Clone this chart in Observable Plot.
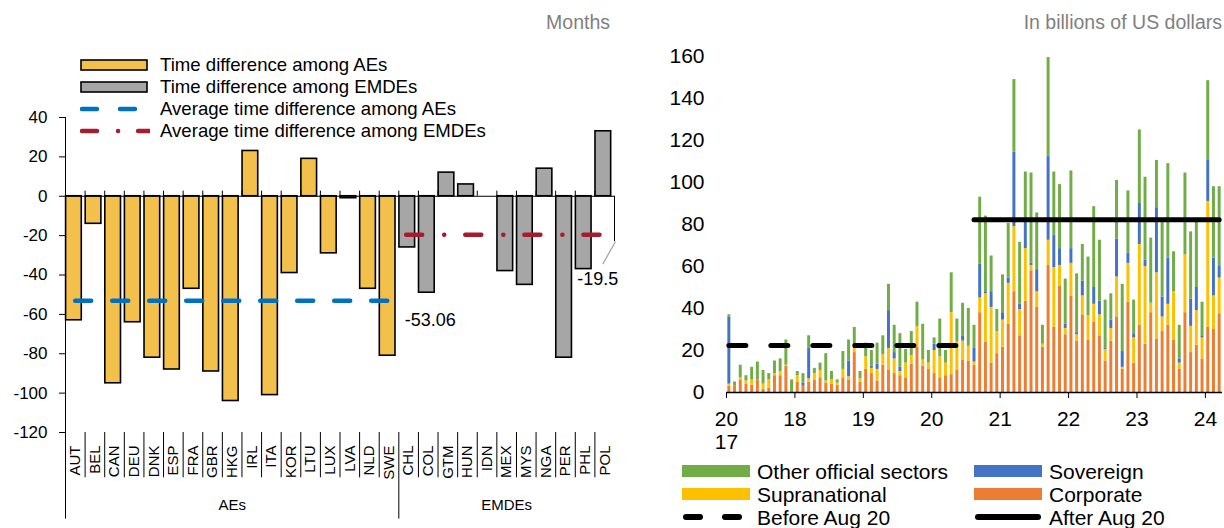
<!DOCTYPE html>
<html><head><meta charset="utf-8">
<script src="https://cdn.jsdelivr.net/npm/d3@7"></script>
<script src="https://cdn.jsdelivr.net/npm/@observablehq/plot@0.6"></script>
<style>
body{margin:0;background:#fff;font-family:"Liberation Sans",Arial,sans-serif;}
#wrap{position:relative;width:1224px;height:528px;overflow:hidden;background:#fff}
#left,#right{position:absolute;top:0}
#left{left:0;z-index:2}
#right{left:620px;z-index:1}
.unit{position:absolute;top:10px;font-size:19.5px;color:#7f7f7f;white-space:nowrap;line-height:24px}
.leg{position:absolute;white-space:nowrap;color:#000;z-index:3}
.leg .row{display:flex;align-items:center}
.leg svg{flex:none;display:block}
#legL{left:80px;top:54px;font-size:18.6px}
#legL .row{height:22px}
#legL svg{margin-right:10px}
#legR{left:682px;top:460px;font-size:21px;display:grid;grid-template-columns:292px 200px}
#legR .row{height:23px}
#legR svg{margin-right:7px}
</style></head>
<body>
<div id="wrap">
  <div id="left"></div>
  <div id="right"></div>
  <div class="unit" style="right:614px">Months</div>
  <div class="unit" style="right:2px">In billions of US dollars</div>
  <div id="legL" class="leg"></div>
  <div id="legR" class="leg"></div>
</div>
<script>
// ---------- Left panel data ----------
const aeCodes = ["AUT","BEL","CAN","DEU","DNK","ESP","FRA","GBR","HKG","IRL","ITA","KOR","LTU","LUX","LVA","NLD","SWE"];
const aeValues = [-63,-14,-95,-64,-82,-88,-47,-89,-104,23,-101,-39,19,-29,-1,-47,-81];
const emdeCodes = ["CHL","COL","GTM","HUN","IDN","MEX","MYS","NGA","PER","PHL","POL"];
const emdeValues = [-26,-49,12,6,0,-38,-45,14,-82,-37,33];
const aeAverage = -53.06;
const emdeAverage = -19.5;
const groupLabels = ["AEs","EMDEs"];
const leftSeries = ["Time difference among AEs","Time difference among EMDEs","Average time difference among AEs","Average time difference among EMDEs"];

// ---------- Right panel data (monthly, Jan 2017 - Mar 2024) ----------
const corporate = [3,3,6,4,3.5,6,1.5,2,8,8,12.5,0.5, 5,3,5,6,7,4.5,4,3.5,7,6,19,5, 11,9,5.5,13,10.5,9,8,7,13.5,21.5,12.5,11, 9,7,8,8.5,10.5,15.5,15,13,38,24,14,18.5, 21.5,32.5,48,27,43.5,58,40.5,21.5,60.5,31,50.5,27.5, 46,24.5,37,25,33.5,27,15,24.5,36,11,43,14, 32,23,38,25.5,29,32,25,11,38,19,22.5,16, 31,30,37.5];
const supranational = [1,0,1,1.5,2.5,0,2.5,4,1,2,0.5,0, 3,0,1.5,3,3.5,1,2,1,4,1.5,2,1.5, 6,2.5,5.5,5,10.5,7,2,7,4,10,3,3, 11,10,6,29.5,13.5,9,7,1.5,7,23,26.5,10.5, 13,19.5,31,12.5,25,2.5,7.5,1.5,12,28.5,10,3, 15.5,3,9,11.5,8.5,10,5.5,6,19,1,18.5,12, 38.5,37,4.5,31.5,7,10,23,3,27.5,12.5,16.5,10, 60,16,17];
const sovereign = [32,0,0,0,0,0,0,0,0,0,0,0, 0,1.5,14.5,0,0,0,0,0,0,7.5,0,0, 0,1,2.5,0,18,3,2,0,0,0,0,0, 3,0,0,0,0,2.5,0,6.5,16,1,7.5,0, 3.5,2.5,35.5,2.5,13,1,10.5,0,40,15.5,8,2, 7,1,7,0,8,6.5,0.5,4,18,7.5,5,2, 19.5,3,0,31,9.5,22,0,2,0,13,11,1, 19.5,18,5.5];
const otherOfficial = [1,2,6,2.5,6,8.5,6.5,3,6,6,12,5.5, 2,4.5,6,2.5,3.5,13,4,1.5,8.5,10,10,3.5, 6.5,7.5,10,9,12.5,13,16,6.5,11.5,11.5,17,6, 3,18,6,19,11,15.5,18,11,32,36,17,10.5, 18,26,34.5,29.5,23.5,43,27,9,47,30,30.5,21.5, 37,28,17.5,28,38.5,29,23,12.5,28,32,29.5,16, 35,39.5,31,22.5,35.5,45,19,16,39,32,31,16, 38,34,38];
const beforeAvg = 22.4;   // Jan 2017 - Jul 2020
const afterAvg = 82.3;    // Aug 2020 - Mar 2024
const yearTickLabels = ["20\n17","18","19","20","21","22","23","24"];
const rightSeries = ["Other official sectors","Sovereign","Supranational","Corporate","Before Aug 20","After Aug 20"];

const months = d3.utcMonths(new Date(Date.UTC(2017,0,1)), new Date(Date.UTC(2024,3,1)));
const nM = months.length;
const afterStart = months.findIndex(d => d.getUTCFullYear() === 2020 && d.getUTCMonth() === 7);
const yearIdx = months.map((d,i)=>d.getUTCMonth()===0 ? i : -1).filter(i=>i>=0);

const FONT = "Liberation Sans, Arial, sans-serif";

// ---------- Left chart ----------
const cats = aeCodes.concat(emdeCodes);
const nAE = aeCodes.length, nAll = cats.length;
const leftData = cats.map((c,i)=>({i, code:c,
  value: i < nAE ? aeValues[i] : emdeValues[i-nAE],
  group: i < nAE ? "AE" : "EMDE"}));

const left = Plot.plot({
  width: 616, height: 528,
  marginLeft: 65, marginRight: 2, marginTop: 117, marginBottom: 96,
  x: {domain: [0, nAll], axis: null},
  y: {domain: [-120, 40], axis: null},
  color: {domain: ["AE","EMDE"], range: ["#F2C04B","#A6A6A6"]},
  style: {fontFamily: FONT, background: "transparent", overflow: "visible", color: "#000"},
  marks: [
    Plot.axisY({ticks: d3.range(-120, 41, 20), tickSize: 6, tickPadding: 12, fontSize: 17, label: null, tickFormat: d => String(d)}),
    Plot.ruleX([0], {y1: -120, y2: 40, stroke: "#000", strokeWidth: 1}),
    Plot.rectY(leftData, {x1: d => d.i + 0.03, x2: d => d.i + 0.83, y1: 0, y2: "value", fill: "group", stroke: "#000", strokeWidth: 1.6}),
    Plot.ruleY([0], {stroke: "#000", strokeWidth: 1}),
    Plot.ruleX(d3.range(1, nAll), {y1: 0, y2: 2.6, stroke: "#000", strokeWidth: 1}),
    Plot.ruleX([nAll], {y1: 0, y2: -23, stroke: "#000", strokeWidth: 1}),
    Plot.ruleY([aeAverage], {x1: 0.52, x2: nAE - 0.4, stroke: "#0070C0", strokeWidth: 4.5, strokeDasharray: "16,21", strokeLinecap: "round"}),
    Plot.ruleY([emdeAverage], {x1: nAE + 0.4, x2: nAll - 0.5, stroke: "#A51C30", strokeWidth: 4.5, strokeDasharray: "16,22,0.1,21", strokeLinecap: "round"}),
    Plot.text([aeAverage], {x: nAE + 0.3, y: d => d, dy: 20, text: d => d.toFixed(2), textAnchor: "start", fontSize: 18, fill: "#000"}),
    Plot.link([emdeAverage], {x1: nAll - 0.6, y1: -34.5, x2: nAll + 0.05, y2: -23, stroke: "#A6A6A6", strokeWidth: 1.3}),
    Plot.text([emdeAverage], {x: nAll - 1.9, y: d => d, dy: 45, text: d => String(d), textAnchor: "start", fontSize: 18, fill: "#000"}),
    // category labels
    Plot.text(leftData, {x: d => d.i + 0.5, y: -120, dy: 13, text: "code", rotate: -90, textAnchor: "end", fontSize: 15, fill: "#000"}),
    Plot.ruleX(d3.range(1, nAll).filter(k => k !== nAE), {y1: -120, y2: -143, stroke: "#000", strokeWidth: 1}),
    Plot.ruleX([0, nAE], {y1: -120, y2: -164, stroke: "#000", strokeWidth: 1}),
    Plot.text(groupLabels, {x: (d,i) => i === 0 ? nAE / 2 : (nAE + nAll) / 2, y: -120, dy: 73, text: d => d, fontSize: 15, fill: "#000"})
  ]
});
document.getElementById("left").appendChild(left);

// ---------- Right chart ----------
const seriesOrder = ["Corporate","Supranational","Sovereign","Other official sectors"];
const seriesVals = [corporate, supranational, sovereign, otherOfficial];
const long = [];
months.forEach((m,i) => seriesOrder.forEach((s,k) => long.push({i, s, v: seriesVals[k][i]})));

const right = Plot.plot({
  width: 604, height: 528,
  marginLeft: 106, marginRight: 2, marginTop: 56, marginBottom: 136,
  x: {domain: [0, nM], axis: null},
  y: {domain: [0, 160], axis: null},
  color: {domain: ["Other official sectors","Sovereign","Supranational","Corporate"], range: ["#70AD47","#4472C4","#FFC000","#ED7D31"]},
  style: {fontFamily: FONT, background: "transparent", overflow: "visible", color: "#000"},
  marks: [
    Plot.axisY({ticks: d3.range(0, 161, 20), tickSize: 0, tickPadding: 22, fontSize: 21, label: null, tickFormat: d => String(d)}),
    Plot.rectY(long, Plot.stackY({x1: d => d.i + 0.24, x2: d => d.i + 0.76, y: "v", fill: "s"})),
    Plot.ruleY([0], {stroke: "#000", strokeWidth: 1.5}),
    Plot.axisX({ticks: yearIdx, tickSize: 6, tickPadding: 11, fontSize: 21, label: null, lineHeight: 1.1,
      tickFormat: d => yearTickLabels[yearIdx.indexOf(d)]}),
    Plot.ruleY([beforeAvg], {x1: 0.5, x2: afterStart - 0.5, stroke: "#000", strokeWidth: 5, strokeDasharray: "17,25", strokeLinecap: "round"}),
    Plot.ruleY([afterAvg], {x1: afterStart + 0.5, x2: nM - 0.5, stroke: "#000", strokeWidth: 5, strokeLinecap: "round"})
  ]
});
document.getElementById("right").appendChild(right);

// ---------- Legends ----------
const ns = "http://www.w3.org/2000/svg";
function row(parent, w, h, draw, label){
  const r = document.createElement("div"); r.className = "row";
  const s = document.createElementNS(ns, "svg"); s.setAttribute("width", w); s.setAttribute("height", h);
  s.innerHTML = draw;
  const t = document.createElement("span"); t.textContent = label;
  r.appendChild(s); r.appendChild(t); parent.appendChild(r);
}
const legL = document.getElementById("legL");
row(legL, 70, 22, '<rect x="1" y="6" width="66" height="10" fill="#F2C04B" stroke="#000" stroke-width="1.6"/>', leftSeries[0]);
row(legL, 70, 22, '<rect x="1" y="6" width="66" height="10" fill="#A6A6A6" stroke="#000" stroke-width="1.6"/>', leftSeries[1]);
row(legL, 70, 22, '<line x1="2" x2="70" y1="11" y2="11" stroke="#0070C0" stroke-width="4.5" stroke-linecap="round" stroke-dasharray="15,23"/>', leftSeries[2]);
row(legL, 70, 22, '<line x1="2" x2="70" y1="11" y2="11" stroke="#A51C30" stroke-width="4.5" stroke-linecap="round" stroke-dasharray="15,21,0.1,20"/>', leftSeries[3]);

const legR = document.getElementById("legR");
const rc = ["#70AD47","#4472C4","#FFC000","#ED7D31"];
rc.forEach((c,k) => row(legR, 68, 23, `<rect x="0" y="5" width="68" height="12" fill="${c}"/>`, rightSeries[k]));
row(legR, 68, 23, '<line x1="4" x2="66" y1="11" y2="11" stroke="#000" stroke-width="6" stroke-linecap="round" stroke-dasharray="14,25"/>', rightSeries[4]);
row(legR, 68, 23, '<line x1="4" x2="64" y1="11" y2="11" stroke="#000" stroke-width="6" stroke-linecap="round"/>', rightSeries[5]);
</script>
</body></html>
